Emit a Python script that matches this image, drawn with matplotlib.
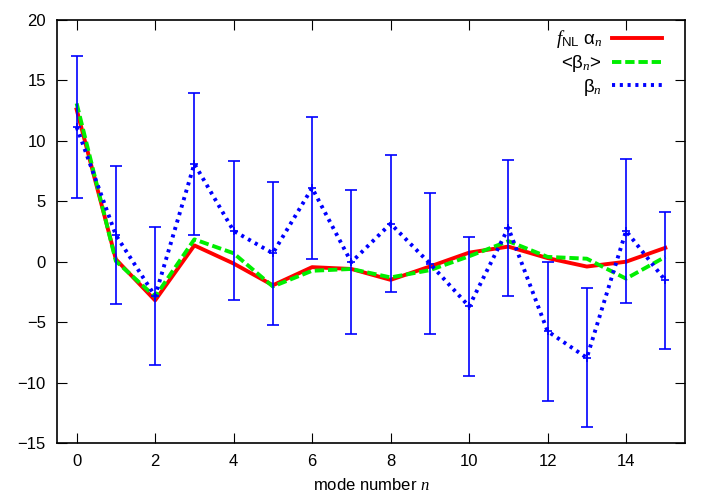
import matplotlib.pyplot as plt
import numpy as np

plt.rcParams['font.family'] = ['Liberation Sans', 'DejaVu Sans']
plt.rcParams['mathtext.fontset'] = 'custom'
plt.rcParams['mathtext.rm'] = 'Liberation Sans'
plt.rcParams['mathtext.it'] = 'Liberation Serif:italic'

# data
n = np.arange(16)
fnl_alpha = [12.6, 0.2, -3.2, 1.35, -0.15, -1.95, -0.45, -0.6,
             -1.5, -0.4, 0.75, 1.25, 0.3, -0.4, 0.0, 1.15]
beta_mean = [13.1, 0.05, -2.9, 1.85, 0.7, -2.05, -0.75, -0.6,
             -1.3, -0.7, 0.45, 1.7, 0.4, 0.25, -1.4, 0.4]
beta = [11.15, 2.2, -2.85, 8.1, 2.55, 0.7, 6.1, -0.05,
        3.15, -0.15, -3.7, 2.8, -5.75, -7.95, 2.55, -1.55]
beta_err = [5.9, 5.7, 5.7, 5.9, 5.75, 5.9, 5.9, 5.95,
            5.65, 5.85, 5.75, 5.65, 5.75, 5.75, 5.95, 5.7]

fig = plt.figure(figsize=(7.16, 5.0), dpi=100)
ax = fig.add_axes([0.0796, 0.114, 0.877, 0.846])

ax.plot(n, fnl_alpha, color='#ff0000', lw=2.8, label=r'$f_{\mathrm{NL}}$ α$_n$')
ax.plot(n, beta_mean, color='#00ee00', lw=2.8, ls=(0, (2.4, 1.0)),
        label=r'<β$_n$>')
ax.errorbar(n, beta, yerr=beta_err, fmt='+', color='#0000ff', ms=6,
            elinewidth=1.2, capsize=4, capthick=1.2, mew=1.2)
ax.plot(n, beta, color='#0000ff', lw=2.8, ls=(0, (0.8, 1.2)), label=r'β$_n$')

ax.set_xlim(-0.5, 15.5)
ax.set_ylim(-15, 20)
ax.set_xticks(range(0, 15, 2))
ax.set_yticks(range(-15, 21, 5))
ax.tick_params(direction='in', top=True, right=True, length=7,
               labelsize=12, pad=8)
for s in ax.spines.values():
    s.set_linewidth(1.2)
ax.set_xlabel(r'mode number $n$', fontsize=12, labelpad=6)

ax.legend(loc='upper right', bbox_to_anchor=(0.976, 0.998), frameon=False,
          markerfirst=False, handlelength=2.7, handletextpad=0.5,
          fontsize=13.5, labelspacing=0.15, borderaxespad=0)

fig.savefig('out.png', dpi=100)
